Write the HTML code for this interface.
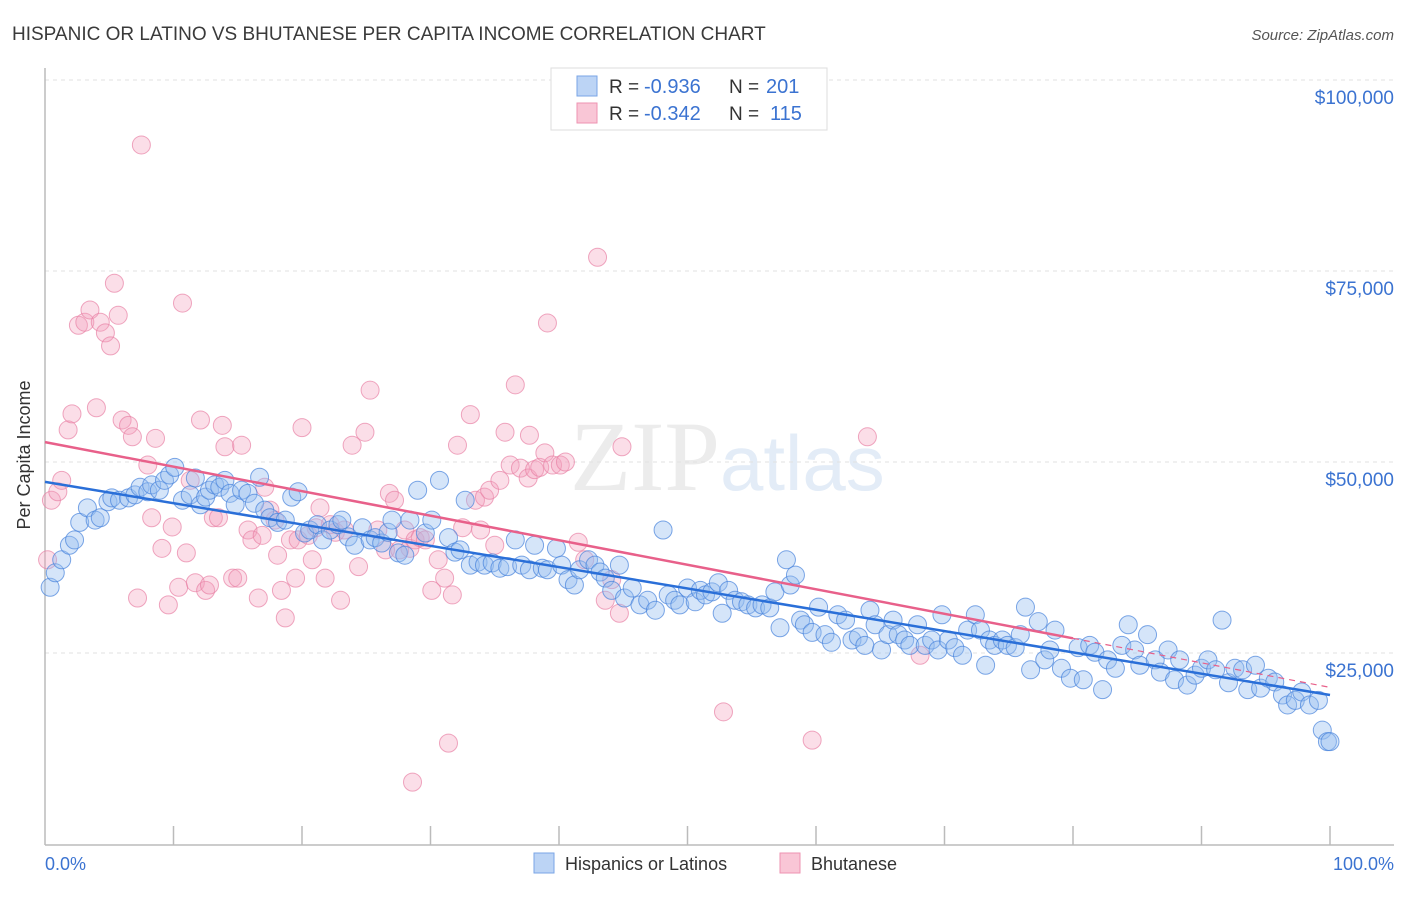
<!DOCTYPE html>
<html><head><meta charset="utf-8"><style>
body{margin:0;background:#fff;width:1406px;height:892px;overflow:hidden;font-family:"Liberation Sans",sans-serif}
</style></head><body>
<svg width="1406" height="892" xmlns="http://www.w3.org/2000/svg">
<text x="12" y="40" font-size="19" fill="#3a3a3a">HISPANIC OR LATINO VS BHUTANESE PER CAPITA INCOME CORRELATION CHART</text>
<text x="1394" y="40" font-size="15" fill="#555" font-style="italic" text-anchor="end">Source: ZipAtlas.com</text>
<text x="720" y="490" font-size="100" fill="#ececec" text-anchor="end" font-family="Liberation Serif,serif">ZIP</text>
<text x="720" y="490" font-size="78" fill="#e3ecf7">atlas</text>
<g id="grid"></g>
<g id="axes"></g>
<g id="pts"></g>
<g id="lines"></g>
<text x="30" y="455" font-size="18" fill="#333" text-anchor="middle" transform="rotate(-90 30 455)">Per Capita Income</text>
<text x="45" y="870" font-size="18" fill="#3b73d1">0.0%</text>
<text x="1394" y="870" font-size="18" fill="#3b73d1" text-anchor="end">100.0%</text>
<g>
<rect x="551" y="68" width="276" height="62" fill="#fff" stroke="#ddd"/>
<rect x="577" y="76" width="20" height="20" fill="#bcd4f5" stroke="#7aa5e6"/>
<rect x="577" y="103" width="20" height="20" fill="#f9c6d6" stroke="#ee93b1"/>
<text x="609" y="93" font-size="19" fill="#333">R =</text>
<text x="644" y="93" font-size="20" fill="#3b73d1">-0.936</text>
<text x="729" y="93" font-size="19" fill="#333">N =</text>
<text x="766" y="93" font-size="20" fill="#3b73d1">201</text>
<text x="609" y="120" font-size="19" fill="#333">R =</text>
<text x="644" y="120" font-size="20" fill="#3b73d1">-0.342</text>
<text x="729" y="120" font-size="19" fill="#333">N =</text>
<text x="770" y="120" font-size="20" fill="#3b73d1">115</text>
</g>
<g>
<rect x="534" y="853" width="20" height="20" fill="#bcd4f5" stroke="#7aa5e6"/>
<text x="565" y="870" font-size="18" fill="#333">Hispanics or Latinos</text>
<rect x="780" y="853" width="20" height="20" fill="#f9c6d6" stroke="#ee93b1"/>
<text x="811" y="870" font-size="18" fill="#333">Bhutanese</text>
</g>
</svg>
<script>
const yTicks=[25000,50000,75000,100000];
const yTickLabels=["$25,000","$50,000","$75,000","$100,000"];
const hispanicPoints=[[0.4,33.6],[0.8,35.5],[1.3,37.2],[1.9,39.1],[2.3,39.8],[2.7,42.1],[3.3,44.0],[3.9,42.4],[4.3,42.7],[4.9,44.8],[5.2,45.3],[5.8,45.0],[6.5,45.3],[7.0,45.7],[7.4,46.7],[8.0,46.1],[8.3,47.0],[8.9,46.3],[9.3,47.6],[9.7,48.3],[10.1,49.3],[10.7,45.0],[11.3,45.7],[11.7,47.9],[12.1,44.4],[12.5,45.4],[12.8,46.3],[13.2,47.0],[13.6,46.7],[14.0,47.6],[14.4,45.9],[14.8,44.4],[15.3,46.3],[15.8,45.9],[16.3,44.6],[16.7,48.0],[17.1,43.7],[17.5,42.7],[18.1,42.1],[18.7,42.4],[19.2,45.4],[19.7,46.1],[20.2,40.7],[20.6,41.1],[21.2,41.8],[21.6,39.8],[22.2,41.1],[22.8,41.8],[23.1,42.4],[23.6,40.2],[24.1,39.1],[24.7,41.4],[25.3,39.8],[25.7,40.1],[26.2,39.4],[26.7,40.8],[27.0,42.4],[27.5,38.1],[28.0,37.8],[28.4,42.4],[29.0,46.3],[29.6,40.7],[30.1,42.4],[30.7,47.6],[31.4,40.1],[31.9,38.2],[32.3,38.5],[32.7,45.0],[33.1,36.5],[33.7,36.9],[34.2,36.5],[34.8,36.8],[35.4,36.1],[36.0,36.3],[36.6,39.8],[37.1,36.5],[37.7,35.9],[38.1,39.1],[38.7,36.1],[39.1,35.9],[39.8,38.7],[40.2,36.5],[40.7,34.6],[41.2,33.9],[41.6,35.9],[42.3,37.2],[42.8,36.5],[43.2,35.6],[43.6,34.8],[44.1,33.2],[44.7,36.5],[45.1,32.2],[45.7,33.5],[46.3,31.3],[46.9,31.9],[47.5,30.6],[48.1,41.1],[48.5,32.6],[49.0,31.9],[49.4,31.3],[50.0,33.5],[50.6,31.7],[51.0,33.2],[51.4,32.6],[51.9,33.0],[52.4,34.2],[52.7,30.2],[53.2,33.2],[53.7,31.9],[54.2,31.7],[54.7,31.3],[55.3,30.9],[55.8,31.3],[56.4,30.9],[56.8,33.0],[57.2,28.3],[57.7,37.2],[58.0,33.9],[58.4,35.2],[58.8,29.3],[59.1,28.7],[59.7,27.7],[60.2,31.0],[60.7,27.4],[61.2,26.4],[61.7,30.0],[62.3,29.3],[62.8,26.7],[63.3,27.1],[63.8,26.0],[64.2,30.6],[64.6,28.7],[65.1,25.4],[65.6,27.4],[66.0,29.3],[66.4,27.4],[66.9,26.7],[67.3,26.0],[67.9,28.7],[68.5,26.0],[69.0,26.7],[69.5,25.4],[69.8,30.0],[70.3,26.7],[70.8,25.7],[71.4,24.7],[71.8,28.0],[72.4,30.0],[72.8,28.0],[73.2,23.4],[73.5,26.7],[73.9,26.0],[74.5,26.7],[74.9,26.0],[75.5,25.7],[75.9,27.4],[76.3,31.0],[76.7,22.8],[77.3,29.1],[77.8,24.1],[78.2,25.4],[78.6,28.0],[79.1,23.0],[79.8,21.7],[80.4,25.7],[80.8,21.5],[81.3,26.0],[81.7,25.1],[82.3,20.2],[82.7,24.1],[83.3,23.0],[83.8,26.0],[84.3,28.7],[84.8,25.4],[85.2,23.4],[85.8,27.4],[86.4,24.1],[86.8,22.5],[87.4,25.4],[87.9,21.5],[88.3,24.1],[88.9,20.8],[89.5,22.1],[90.0,23.0],[90.5,24.1],[91.1,22.8],[91.6,29.3],[92.1,21.1],[92.6,23.0],[93.2,22.8],[93.6,20.2],[94.2,23.4],[94.6,20.4],[95.2,21.7],[95.7,21.2],[96.3,19.5],[96.7,18.2],[97.3,18.8],[97.8,19.9],[98.4,18.2],[99.1,18.8],[99.4,14.9],[99.8,13.4],[100.0,13.4]];
const bhutanesePoints=[[0.2,37.2],[0.5,45.0],[1.0,46.1],[1.3,47.6],[1.8,54.2],[2.1,56.3],[2.6,67.9],[3.1,68.3],[3.5,69.9],[4.0,57.1],[4.3,68.3],[4.7,66.9],[5.1,65.2],[5.4,73.4],[5.7,69.2],[6.0,55.5],[6.5,54.8],[6.8,53.3],[7.2,32.2],[7.5,91.5],[8.0,49.6],[8.3,42.7],[8.6,53.1],[9.1,38.7],[9.6,31.3],[9.9,41.5],[10.4,33.6],[10.7,70.8],[11.0,38.1],[11.3,47.6],[11.7,34.2],[12.1,55.5],[12.5,33.2],[12.8,33.9],[13.1,42.7],[13.5,42.7],[13.8,54.8],[14.0,52.0],[14.6,34.8],[15.0,34.8],[15.3,52.2],[15.8,41.1],[16.1,39.8],[16.6,32.2],[16.9,40.4],[17.1,46.7],[17.5,43.7],[17.9,42.4],[18.1,37.8],[18.4,33.2],[18.7,29.6],[19.1,39.8],[19.5,34.8],[19.7,39.8],[20.0,54.5],[20.5,40.4],[20.8,37.2],[21.1,41.4],[21.4,44.0],[21.8,34.8],[22.2,41.8],[22.6,40.8],[23.0,31.9],[23.3,41.1],[23.9,52.2],[24.4,36.3],[24.9,53.9],[25.3,59.4],[25.9,41.1],[26.5,38.5],[26.8,45.9],[27.2,45.0],[27.6,38.5],[28.0,41.1],[28.4,38.7],[28.8,39.8],[29.2,40.1],[29.6,39.8],[30.1,33.2],[30.6,37.2],[31.1,34.8],[31.4,13.2],[31.7,32.6],[32.1,52.2],[32.5,41.4],[33.1,56.2],[33.5,45.0],[33.9,41.1],[34.2,45.4],[34.6,46.3],[35.0,39.1],[35.4,47.6],[35.8,53.9],[36.2,49.6],[36.6,60.1],[37.0,49.2],[37.6,47.9],[37.7,53.5],[38.1,49.0],[38.5,49.3],[38.9,51.2],[39.1,68.2],[39.5,49.6],[40.1,49.6],[40.5,50.0],[41.5,39.5],[42.0,37.2],[43.0,76.8],[43.6,31.9],[44.1,34.6],[44.7,30.2],[44.9,52.0],[52.8,17.3],[59.7,13.6],[64.0,53.3],[68.1,24.7],[28.6,8.1]];
const hispanicTrend=[47.4,19.5];
const bhutaneseTrend=[52.6,20.5];
const NS="http://www.w3.org/2000/svg";
function sx(p){return 45+p*12.85;}
function sy(k){return 844-k*7.64;}
function mk(t,a,parent){const e=document.createElementNS(NS,t);for(const k in a)e.setAttribute(k,a[k]);parent.appendChild(e);return e;}
const grid=document.getElementById('grid');
yTicks.forEach((v,i)=>{
  const y=sy(v/1000);
  const l=mk('line',{x1:45,x2:1394,y1:y,y2:y,stroke:'#e2e2e2','stroke-dasharray':'4,4'},grid);
  
  
  const t=mk('text',{x:1394,y:y+24,'font-size':19,fill:'#3b73d1','text-anchor':'end'},grid);
  t.textContent=yTickLabels[i];
  
  
});
const axes=document.getElementById('axes');
const ax=mk('line',{x1:45,x2:45,y1:68,y2:845,stroke:'#bbb','stroke-width':1.5},axes);


const bx=mk('line',{x1:45,x2:1394,y1:845,y2:845,stroke:'#bbb','stroke-width':1.5},axes);


for(let i=1;i<=10;i++){
  const tk=mk('line',{x1:sx(i*10),x2:sx(i*10),y1:826,y2:845,stroke:'#bbb','stroke-width':1.5},axes);
  
  
}
const pts=document.getElementById('pts');
bhutanesePoints.forEach(p=>{
  const c=mk('circle',{cx:sx(p[0]),cy:sy(p[1]),r:9,fill:'rgba(244,160,190,0.35)',stroke:'rgba(232,130,165,0.7)','stroke-width':1},pts);
  
  
});
hispanicPoints.forEach(p=>{
  const c=mk('circle',{cx:sx(p[0]),cy:sy(p[1]),r:9,fill:'rgba(150,190,240,0.4)',stroke:'rgba(70,130,220,0.7)','stroke-width':1},pts);
  
  
});
const lines=document.getElementById('lines');
const pm=bhutaneseTrend[0]+(bhutaneseTrend[1]-bhutaneseTrend[0])*0.8;
const p1=mk('line',{x1:sx(0),y1:sy(bhutaneseTrend[0]),x2:sx(80),y2:sy(pm),stroke:'#e8608a','stroke-width':2.5},lines);


const p2=mk('line',{x1:sx(80),y1:sy(pm),x2:sx(100),y2:sy(bhutaneseTrend[1]),stroke:'#e8608a','stroke-width':1.2,'stroke-dasharray':'6,5'},lines);


const b1=mk('line',{x1:sx(0),y1:sy(hispanicTrend[0]),x2:sx(100),y2:sy(hispanicTrend[1]),stroke:'#2a6fd8','stroke-width':2.5},lines);


</script>
</body></html>
